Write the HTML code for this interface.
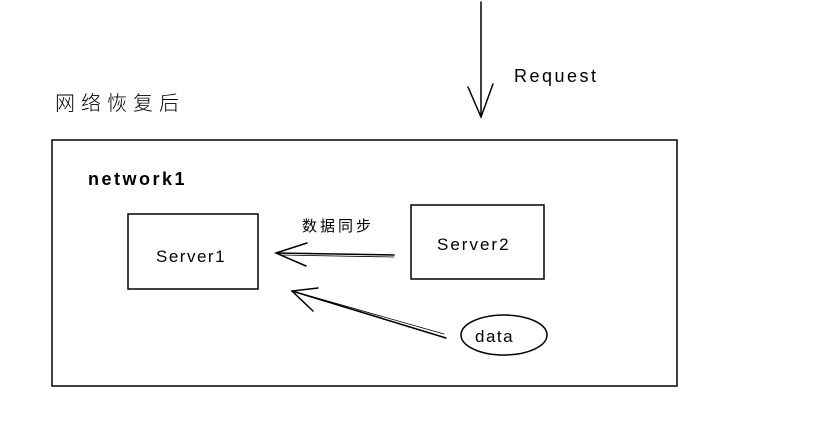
<!DOCTYPE html>
<html><head><meta charset="utf-8"><style>
html,body{margin:0;padding:0;background:#fff;}
svg{display:block}
text{font-family:"Liberation Sans","Noto Sans CJK SC",sans-serif;fill:#000}
</style></head><body>
<svg width="828" height="448" viewBox="0 0 828 448" xmlns="http://www.w3.org/2000/svg">
<g fill="none" stroke="#000" stroke-width="1.5" stroke-linecap="round">
<path d="M481 2 L481 117 M468 87 L481 117 L493 84"/>
<rect x="52" y="140" width="625" height="246"/>
<rect x="128" y="214" width="130" height="75"/>
<rect x="411" y="205" width="133" height="74"/>
<path d="M394 255 L276 253 M307 243 L276 253 L306 266"/>
<path d="M394 257 L280 255" stroke-width="0.8"/>
<path d="M446 338 L292 291 M318 288 L292 291 L313 311"/>
<path d="M444 334 L296 292" stroke-width="0.8"/>
<ellipse cx="504" cy="335" rx="43" ry="20"/>
</g>
<text x="514" y="82" font-size="18" letter-spacing="2.5">Request</text>
<text x="55" y="110" font-size="20" letter-spacing="6" font-weight="300">网络恢复后</text>
<text x="88" y="185" font-size="18" font-weight="bold" letter-spacing="2.5">network1</text>
<text x="156" y="262" font-size="17" letter-spacing="1.5">Server1</text>
<text x="437" y="250" font-size="17" letter-spacing="2">Server2</text>
<text x="302" y="231" font-size="15" letter-spacing="3" fill="#333">数据同步</text>
<text x="475" y="342" font-size="17" letter-spacing="1.5">data</text>
</svg>
</body></html>
